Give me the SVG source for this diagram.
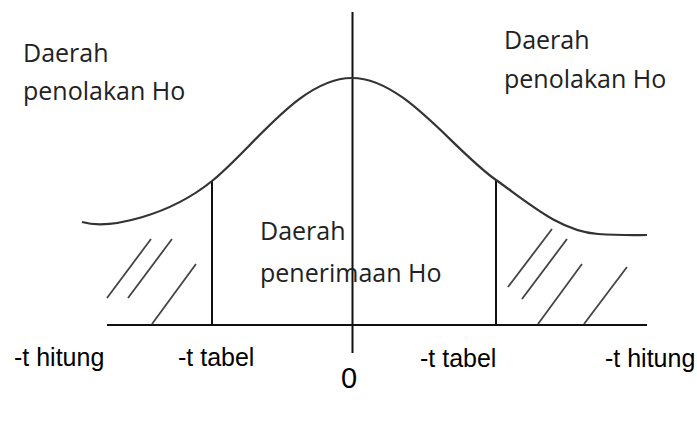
<svg xmlns="http://www.w3.org/2000/svg" width="697" height="435" viewBox="0 0 697 435">
<style>
.region{font-family:"Open Sans","Noto Sans",sans-serif;font-size:25px;fill:#222}
.tick{font-family:"Liberation Sans",Arial,sans-serif;font-size:25px;fill:#000}
.axis{stroke:#111;stroke-width:2;fill:none}
.curve{stroke:#333;stroke-width:2.2;fill:none}
.hatch{stroke:#444;stroke-width:1.8;fill:none}
</style>
<rect x="0" y="0" width="697" height="435" fill="#fff"/>
<g id="connectors">
<line class="axis" x1="107" y1="325" x2="647" y2="325"/>
<line class="axis" x1="352.5" y1="12" x2="352.5" y2="353"/>
<line class="axis" x1="212" y1="181" x2="212" y2="325"/>
<line class="axis" x1="496" y1="180" x2="496" y2="325"/>
</g>
<g id="curve">
<path class="curve" d="M82,222 C110,230 170,215 212,181 C254,147 300,78 352,78 C404,78 452,149 496,180 C530,204 560,231 598,234 C620,235.5 635,235 647,235"/>
</g>
<g id="hatch-left">
<line class="hatch" x1="151" y1="239" x2="107" y2="298"/>
<line class="hatch" x1="172" y1="239" x2="128" y2="298"/>
<line class="hatch" x1="196" y1="264" x2="152" y2="324"/>
</g>
<g id="hatch-right">
<line class="hatch" x1="552" y1="229" x2="508" y2="287"/>
<line class="hatch" x1="567" y1="239" x2="522" y2="299"/>
<line class="hatch" x1="582" y1="264" x2="538" y2="324"/>
<line class="hatch" x1="627" y1="267" x2="584" y2="324"/>
</g>
<g id="left-rejection">
<text class="region" x="23" y="62">Daerah</text>
<text class="region" x="23" y="100">penolakan Ho</text>
</g>
<g id="right-rejection">
<text class="region" x="504" y="49">Daerah</text>
<text class="region" x="504" y="88">penolakan Ho</text>
</g>
<g id="acceptance">
<text class="region" x="260" y="240">Daerah</text>
<text class="region" x="260" y="282">penerimaan Ho</text>
</g>
<g id="labels">
<text class="tick" x="14" y="366">-t hitung</text>
<text class="tick" x="178" y="366">-t tabel</text>
<text class="tick" x="420" y="367">-t tabel</text>
<text class="tick" x="605" y="367">-t hitung</text>
<text class="tick" x="349" y="388" text-anchor="middle" style="font-size:29px">0</text>
</g>
</svg>
